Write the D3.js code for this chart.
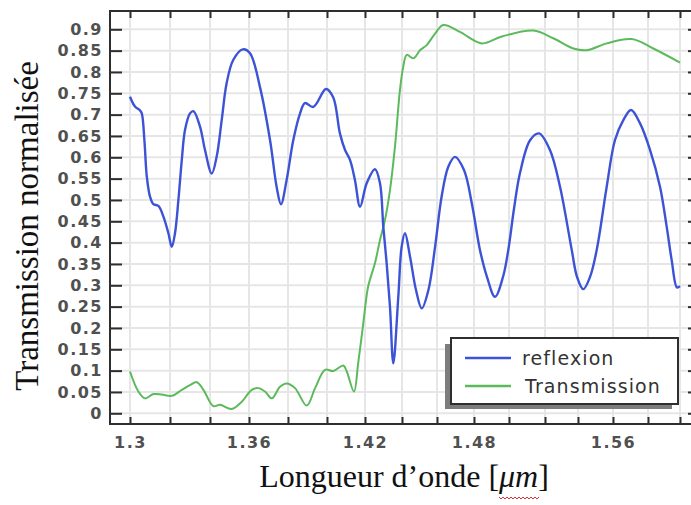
<!DOCTYPE html>
<html>
<head>
<meta charset="utf-8">
<script src="https://cdn.jsdelivr.net/npm/d3@7/dist/d3.min.js"></script>
<style>
  html, body { margin: 0; padding: 0; background: #fff; }
  svg { display: block; }
</style>
</head>
<body>
<svg id="chart" width="691" height="505"></svg>
<script>
// ---- data ----
const xTickValues = [1.30, 1.32, 1.34, 1.36, 1.38, 1.40, 1.42, 1.44, 1.46, 1.48, 1.50, 1.52, 1.54, 1.56, 1.58, 1.60];
const xLabelValues = [1.30, 1.36, 1.42, 1.48, 1.56];
const xLabelText = ["1.3", "1.36", "1.42", "1.48", "1.56"];
const yTickValues = [0, 0.05, 0.1, 0.15, 0.2, 0.25, 0.3, 0.35, 0.4, 0.45, 0.5, 0.55, 0.6, 0.65, 0.7, 0.75, 0.8, 0.85, 0.9];
const yTickText = ["0", "0.05", "0.1", "0.15", "0.2", "0.25", "0.3", "0.35", "0.4", "0.45", "0.5", "0.55", "0.6", "0.65", "0.7", "0.75", "0.8", "0.85", "0.9"];

const seriesNames = ["reflexion", "Transmission"];

// wavelength (µm) and normalised reflection
const reflexionLambda = [
  1.3000, 1.3025, 1.3050, 1.3059, 1.3072, 1.3084, 1.3100, 1.3117, 1.3142, 1.3167,
  1.3192, 1.3209, 1.3225, 1.3242, 1.3259, 1.3275, 1.3300, 1.3317, 1.3350, 1.3375,
  1.3409, 1.3434, 1.3460, 1.3485, 1.3519, 1.3568, 1.3605, 1.3656, 1.3708, 1.3742,
  1.3764, 1.3793, 1.3827, 1.3862, 1.3887, 1.3930, 1.3995, 1.4033, 1.4068, 1.4095,
  1.4121, 1.4147, 1.4174, 1.4209, 1.4254, 1.4281, 1.4299, 1.4317, 1.4335, 1.4353,
  1.4380, 1.4398, 1.4417, 1.4446, 1.4480, 1.4513, 1.4551, 1.4589, 1.4625, 1.4661,
  1.4697, 1.4746, 1.4789, 1.4834, 1.4874, 1.4920, 1.4966, 1.4996, 1.5028, 1.5061,
  1.5117, 1.5167, 1.5230, 1.5291, 1.5362, 1.5394, 1.5430, 1.5469, 1.5507, 1.5564,
  1.5611, 1.5659, 1.5703, 1.5754, 1.5813, 1.5875, 1.5917, 1.5948, 1.5981, 1.6000
];
const reflexionValue = [
  0.742, 0.719, 0.710, 0.703, 0.640, 0.555, 0.508, 0.490, 0.486, 0.461,
  0.422, 0.390, 0.422, 0.500, 0.594, 0.664, 0.703, 0.708, 0.672, 0.617,
  0.562, 0.601, 0.687, 0.773, 0.828, 0.853, 0.844, 0.765, 0.640, 0.530,
  0.490, 0.547, 0.640, 0.703, 0.727, 0.718, 0.760, 0.740, 0.656, 0.617,
  0.594, 0.547, 0.484, 0.539, 0.572, 0.539, 0.437, 0.352, 0.250, 0.117,
  0.273, 0.390, 0.422, 0.367, 0.289, 0.246, 0.289, 0.390, 0.508, 0.578,
  0.601, 0.570, 0.490, 0.383, 0.320, 0.273, 0.320, 0.383, 0.480, 0.563,
  0.640, 0.656, 0.617, 0.531, 0.383, 0.320, 0.291, 0.320, 0.383, 0.531,
  0.640, 0.687, 0.711, 0.680, 0.617, 0.531, 0.437, 0.359, 0.295, 0.298
];

// wavelength (µm) and normalised transmission
const transmissionLambda = [
  1.3000, 1.3042, 1.3075, 1.3117, 1.3159, 1.3209, 1.3259, 1.3300, 1.3334, 1.3367,
  1.3417, 1.3451, 1.3511, 1.3563, 1.3614, 1.3648, 1.3682, 1.3717, 1.3759, 1.3793,
  1.3836, 1.3896, 1.3939, 1.3990, 1.4033, 1.4086, 1.4104, 1.4142, 1.4164, 1.4191,
  1.4217, 1.4254, 1.4281, 1.4308, 1.4335, 1.4362, 1.4389, 1.4407, 1.4427, 1.4465,
  1.4503, 1.4541, 1.4589, 1.4634, 1.4724, 1.4844, 1.4959, 1.5135, 1.5250, 1.5372,
  1.5450, 1.5564, 1.5707, 1.5833, 1.6000
];
const transmissionValue = [
  0.098, 0.051, 0.035, 0.045, 0.044, 0.041, 0.055, 0.066, 0.073, 0.055,
  0.017, 0.020, 0.010, 0.027, 0.055, 0.059, 0.051, 0.035, 0.062, 0.070,
  0.059, 0.018, 0.059, 0.102, 0.099, 0.112, 0.098, 0.051, 0.117, 0.211,
  0.297, 0.352, 0.406, 0.453, 0.523, 0.625, 0.758, 0.812, 0.840, 0.832,
  0.851, 0.863, 0.890, 0.910, 0.894, 0.867, 0.883, 0.897, 0.879, 0.855,
  0.851, 0.867, 0.877, 0.855, 0.822
];

// ---- layout ----
const frame = { left: 110, top: 11, right: 700, bottom: 424 };
// screen position of every 0.02 µm tick along the wavelength axis
const xStops = [130, 170, 210, 249, 288, 327, 365, 402, 437, 474, 509, 545, 578, 613, 648, 680];
const colors = { reflexion: "#3d53d6", transmission: "#5cba5c" };

const svg = d3.select("#chart");

const x = d3.scaleLinear().domain(xTickValues).range(xStops);
const y = d3.scaleLinear().domain([0, 0.9]).range([413.3, 29.3]);

// grid
const grid = svg.append("g").attr("stroke", "#e6e6e6").attr("stroke-width", 2);
grid.selectAll("line.v").data(xTickValues).join("line")
  .attr("class", "v")
  .attr("x1", d => x(d)).attr("x2", d => x(d))
  .attr("y1", frame.top).attr("y2", frame.bottom);
grid.selectAll("line.h").data(yTickValues).join("line")
  .attr("class", "h")
  .attr("x1", frame.left).attr("x2", frame.right)
  .attr("y1", d => y(d)).attr("y2", d => y(d));

// curves
const line = d3.line()
  .x(d => x(d[0]))
  .y(d => y(d[1]))
  .curve(d3.curveCatmullRom.alpha(0.5));

const transData = transmissionLambda.map((l, i) => [l, transmissionValue[i]]);
const reflData = reflexionLambda.map((l, i) => [l, reflexionValue[i]]);

svg.append("path").datum(transData)
  .attr("fill", "none").attr("stroke", colors.transmission)
  .attr("stroke-width", 2).attr("stroke-linejoin", "round")
  .attr("d", line);
svg.append("path").datum(reflData)
  .attr("fill", "none").attr("stroke", colors.reflexion)
  .attr("stroke-width", 2.4).attr("stroke-linejoin", "round")
  .attr("d", line);

// frame
svg.append("path")
  .attr("d", `M${frame.right},${frame.top}H${frame.left}V${frame.bottom}H${frame.right}`)
  .attr("fill", "none").attr("stroke", "#2e2e2e").attr("stroke-width", 2);

// tick marks
function styleTicks(g) {
  g.select(".domain").remove();
  g.selectAll(".tick line").attr("stroke", "#2e2e2e").attr("stroke-width", 2);
}
svg.append("g").attr("transform", `translate(0,${frame.bottom})`)
  .call(d3.axisBottom(x).tickValues(xTickValues).tickSizeInner(-7).tickSizeOuter(0).tickFormat(""))
  .call(styleTicks);
svg.append("g").attr("transform", `translate(0,${frame.top})`)
  .call(d3.axisTop(x).tickValues(xTickValues).tickSizeInner(-7).tickSizeOuter(0).tickFormat(""))
  .call(styleTicks);
svg.append("g").attr("transform", `translate(${frame.left},0)`)
  .call(d3.axisLeft(y).tickValues(yTickValues).tickSizeInner(-12).tickSizeOuter(0).tickFormat(""))
  .call(styleTicks);
svg.append("g").attr("transform", `translate(${frame.right},0)`)
  .call(d3.axisRight(y).tickValues(yTickValues).tickSizeInner(-12).tickSizeOuter(0).tickFormat(""))
  .call(styleTicks);

// tick labels
function styleLabels(g) {
  g.select(".domain").remove();
  g.selectAll(".tick line").remove();
  g.selectAll(".tick text")
    .attr("font-family", "'DejaVu Sans', sans-serif")
    .attr("font-weight", "bold")
    .attr("font-size", 16)
    .attr("letter-spacing", "1.5px")
    .attr("fill", "#505050");
}
svg.append("g").attr("transform", `translate(0,${frame.bottom})`)
  .call(d3.axisBottom(x).tickValues(xLabelValues).tickSize(0).tickPadding(13)
    .tickFormat((d, i) => xLabelText[i]))
  .call(styleLabels);
svg.append("g").attr("transform", `translate(${frame.left},0)`)
  .call(d3.axisLeft(y).tickValues(yTickValues).tickSize(0).tickPadding(7)
    .tickFormat((d, i) => yTickText[i]))
  .call(styleLabels);

// axis titles
svg.append("text")
  .attr("transform", "translate(38,226) rotate(-90)")
  .attr("text-anchor", "middle")
  .attr("font-family", "'Liberation Serif', 'Times New Roman', serif")
  .attr("font-size", 33)
  .attr("fill", "#111")
  .text("Transmission normalisée");

const xTitle = svg.append("text")
  .attr("x", 404).attr("y", 487)
  .attr("text-anchor", "middle")
  .attr("font-family", "'Liberation Serif', 'Times New Roman', serif")
  .attr("font-size", 32)
  .attr("fill", "#111");
xTitle.append("tspan").text("Longueur d’onde [");
xTitle.append("tspan").attr("font-style", "italic").text("μm");
xTitle.append("tspan").text("]");

// spell-check squiggle under the unit
{
  const node = xTitle.node();
  const iMu = "Longueur d’onde [".length;
  const a = node.getExtentOfChar(iMu);
  const b = node.getExtentOfChar(iMu + 1);
  const x0 = a.x, x1 = b.x + b.width, yy = 497;
  let d = `M${x0},${yy}`;
  for (let xx = x0, k = 0; xx < x1; xx += 2, k++) {
    d += `L${xx + 2},${yy + (k % 2 ? 0 : 2)}`;
  }
  svg.append("path").attr("d", d).attr("fill", "none")
    .attr("stroke", "#d42a2a").attr("stroke-width", 1);
}

// legend
const legend = svg.append("g");
legend.append("rect")
  .attr("x", 445).attr("y", 344).attr("width", 227).attr("height", 65)
  .attr("fill", "#7d7d7d");
legend.append("rect")
  .attr("x", 451).attr("y", 338).attr("width", 227).attr("height", 66)
  .attr("fill", "#fff").attr("stroke", "#2e2e2e").attr("stroke-width", 2);
const legendRows = [
  { name: seriesNames[0], color: colors.reflexion, y: 358, x: 522 },
  { name: seriesNames[1], color: colors.transmission, y: 386, x: 525 }
];
legend.selectAll("line.key").data(legendRows).join("line")
  .attr("class", "key")
  .attr("x1", 465).attr("x2", 511)
  .attr("y1", d => d.y).attr("y2", d => d.y)
  .attr("stroke", d => d.color).attr("stroke-width", 2.5);
legend.selectAll("text.key").data(legendRows).join("text")
  .attr("class", "key")
  .attr("x", d => d.x).attr("y", d => d.y + 7)
  .attr("font-family", "'DejaVu Sans', sans-serif")
  .attr("font-size", 19)
  .attr("letter-spacing", "1.1px")
  .attr("fill", "#333")
  .text(d => d.name);
</script>
</body>
</html>
